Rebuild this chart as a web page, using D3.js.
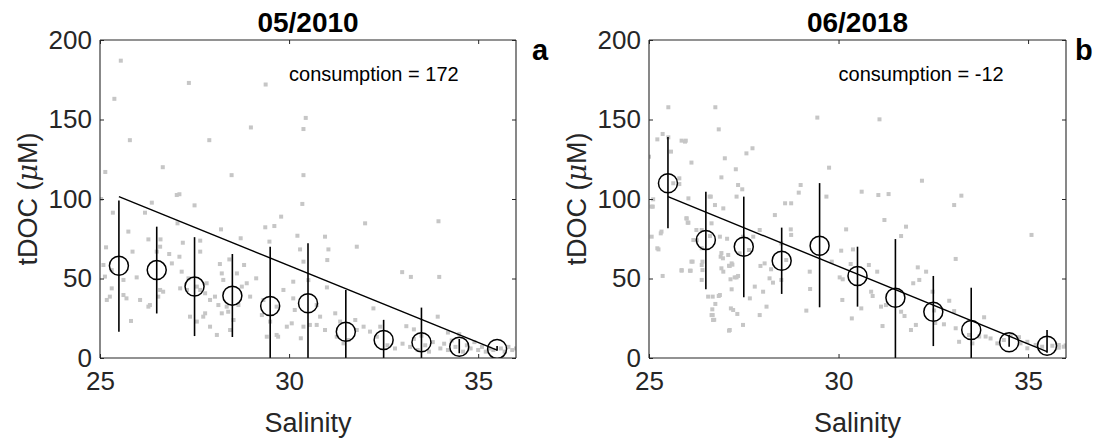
<!DOCTYPE html>
<html><head><meta charset="utf-8">
<script src="https://cdn.jsdelivr.net/npm/d3@7"></script>
<style>body{margin:0;background:#fff}svg{display:block}</style>
</head><body><svg id="c" width="1098" height="443"></svg>
<script>
const bins = [25.5,26.5,27.5,28.5,29.5,30.5,31.5,32.5,33.5,34.5,35.5];
const mean2010 = [58,55.3,44.9,39.2,32.7,34.4,16.5,11.3,9.9,7.1,5.7];
const lo2010 = [16.5,28,13.8,13.2,0,0,0,0,0,3,4.5];
const hi2010 = [99,82.6,76,65.4,70,72.1,42.8,24,31.7,12,7.5];
const mix2010 = [[25.5,101.5],[35.5,5]];
const mean2018 = [109.9,74.2,70,61.2,70.6,51.6,37.9,29.1,17.6,9.9,7.7];
const lo2018 = [81.6,43.2,38.2,40.3,31.9,32.3,0,7.5,0,7.1,3.3];
const hi2018 = [139,104.6,101.5,82,110,70,74.8,51.6,44.2,14.5,17.6];
const mix2018 = [[25.5,101.5],[35.5,4]];
const titles = ["05/2010","06/2018"];
const letters = ["a","b"];
const consumption = ["consumption = 172","consumption = -12"];
const xTicks = [25,30,35];
const yTicks = [0,50,100,150,200];

const pts2010 = [
[25.55,187],[25.38,163],[25.79,137],[25.14,117],[26.66,120],[27.35,173],[29.38,172],[30.44,151],[30.38,144],[28.99,145],
[27.89,137],[28.48,115],[30.38,115],[25.03,100],[27.03,102.5],[27.1,103],[27.5,96],[33.95,86],[32.99,54],[33.22,51],
[33.97,51],[33.93,26],[33.1,20],[26.37,97.7],[25.34,91.4],[26.19,91.4],[30.35,96.9],[29.79,88.9],[32.01,84.7],[29.37,82.2],
[29.61,83],[28.2,80.9],[25.75,79.5],[27.05,84.7],[30.22,76.9],[30.95,76.3],[29.48,73.2],[28.72,75.3],[26.28,74.6],[25.86,66.9],
[25.16,69.6],[26.6,74.6],[27.65,73.8],[27.19,72.5],[26.5,66.9],[26.59,70],[26.83,65.4],[27.1,63.7],[27.65,66.9],[28.42,62],
[28.17,59.1],[28.81,58.5],[29.13,50.1],[28.62,53.2],[28.88,47],[28.97,38.6],[30.29,68.3],[30.38,60.6],[31.01,61.6],[31.04,68.3],
[31.79,70],[30.51,49],[31,44.4],[30.11,37.5],[30.38,19.7],[30.73,20.8],[30.95,17.6],[31.26,13.4],[31.44,9.2],[31.57,11.3],
[31.79,17.6],[31.97,19.7],[32.23,31.2],[29.67,14.5],[29.71,13.4],[29.41,13.4],[29.94,19.7],[28.09,14.5],[28.44,17.6],[27.91,19.7],
[27.56,22.9],[27.38,26],[25.82,23.3],[25.18,36.5],[25.26,38.6],[25.62,39.6],[25.7,37.5],[25.31,43.8],[25.13,51.2],[25.62,49.1],
[25.97,50.7],[26.06,36.5],[26.28,32.3],[26.32,33.3],[26.54,38.6],[26.59,42.8],[26.67,41.7],[27.12,43.8],[27.3,42.8],[27.56,44.9],
[27.65,42.8],[27.82,47],[27.78,40.7],[27.91,36.5],[28.04,38.6],[28.13,33.3],[27.78,28.1],[27.73,26],[28.22,28.1],[28.35,32.3],
[28.39,29.1],[28.53,23.9],[28.66,33.3],[29.32,36.5],[29.28,27],[29.5,22.9],[30.07,21.8],[30.31,12.4],[30.55,20.8],[30.82,26],
[31.22,28.1],[31.35,22.9],[31.75,23.9],[32.14,16.6],[32.32,13.4],[32.41,19.7],[25.31,55.3],[25.09,58.5],[26.9,59.5],[27.16,54.3],
[27.34,50.1],[28.22,53.2],[28.26,49.1],[28.75,44.9],[30.11,48],[29.85,42.8],[30.15,30.2],[29.67,32.3],[30.73,33.3],
[32.6,8],[32.8,6],[33.0,9],[33.2,7],[33.3,12],[33.4,5],[33.6,8],[33.7,4],[33.8,10],[34.0,6],[34.1,9],[34.2,5],[34.3,11],
[34.4,7],[34.6,4],[34.7,8],[34.8,6],[34.9,10],[35.0,5],[35.1,7],[35.2,4],[35.3,6],[35.4,5],[35.6,6],[35.7,4],[35.8,7],
[35.9,5],[36.0,6],[34.5,15],[34.2,16],[33.5,14],[33.3,18]
];
const pts2018 = [
[25.51,157.7],[26.75,157.7],[26.84,143.8],[29.44,151.2],[31.08,150.1],[25.22,137.5],[25.36,140.9],[25.51,138.8],[25.86,136.7],[25.97,136.7],
[25.58,129.8],[25.0,126.6],[26.12,122.9],[27,125.6],[27.73,131.9],[27.57,128.7],[27.29,118.7],[26.91,113.6],[29.75,119.7],[32.2,111.5],
[25.8,113],[25.8,109.4],[25.64,109.9],[27.35,108.8],[27.46,106.1],[29,108.8],[28.95,104],[30.61,104.6],[31.05,102.5],[31.32,103.1],
[26.6,101.5],[27.31,101.5],[26.04,100.4],[25.11,99.8],[25.07,95.2],[26.63,101.5],[26.74,96.2],[26.96,94.1],[25.99,87.8],[26.04,85.1],
[25.33,79.5],[25.07,76.3],[25.25,68.3],[28.32,89.9],[28.59,97.3],[28.75,97.3],[28.74,80.9],[28.75,77.4],[29.68,101.5],[31.21,86.8],
[31.78,82.6],[31.65,76.7],[30.2,80.9],[30.07,67.5],[30.38,68.3],[30.8,58.5],[31.02,54.3],[30.03,50.7],[30.11,49.5],[30.32,59.1],
[29.82,60.6],[29.24,54.3],[29.25,43.4],[29.15,29.8],[30.1,36.5],[30.35,24.9],[30.6,31.2],[30.86,41.7],[30.9,39],[31.12,32.3],
[31.25,33.3],[31.16,20.1],[31.65,29.1],[31.74,26.4],[31.91,17.6],[32.04,20.8],[32.09,57],[32.31,54.3],[32.13,49.1],[31.97,47],
[32.48,41.7],[25.86,55.3],[26.08,54.9],[26.12,60.6],[26.39,58.5],[26.41,55.3],[26.39,49.1],[26.17,74.2],[26.25,80.5],[26.56,38.6],
[26.84,39],[26.67,30.6],[26.65,27],[26.69,23.9],[26.89,63.7],[26.91,56.4],[27.09,64.8],[27.13,57.9],[27.15,49.5],[27.26,50.7],
[26.87,76.3],[27.18,43.2],[27.33,27.7],[27.16,31.2],[27.11,17.2],[27.48,20.8],[27.66,37.5],[27.79,44.9],[28.01,41.7],[27.92,27],
[28.1,32.3],[27.94,57.9],[28.05,59.5],[28.18,50.1],[28.27,47.4],[28.22,55.8],[28.49,49.1],[28.62,61.6],[27.64,67.9],[27.75,76.3],
[27.48,76.3],[27.39,65.8],[28.49,72.1],[27.92,80.5],[26.65,84.7],[33.05,96.2],[33.24,102.1],[33.09,62.3],[35.09,77.4],[32.92,36],
[33.05,29.5],[33.84,25.6],[32.78,21.2],[33.09,18.7],[33.44,14.5],[33.71,13.5],[33.18,10.2],[33.53,9.2],[33.88,13.5],[34.01,12.3],
[34.19,9.2],[34.36,11.3],[34.54,14.5],[34.76,13.1],[34.8,9.2],[34.98,10.2],[35.2,8.2],[35.37,7.1],[35.64,7.7],[35.81,8.2],
[35.99,7.9],[34.98,6.1],[35.81,6.5],[35.94,7.1],[32.55,22],[32.52,29.9],[25.95,136.1],[25.1,95.2],[25.31,78.4],[25.22,69],
[25.36,51.6],[25.99,87.8],[26.02,85.1],[25.86,54.9],[26.1,54.9],[26.15,60.6],[26.26,74],[26.39,69],[26.41,60.6],[26.39,80.5],
[26.61,76.7],[26.68,38.6],[26.75,34],[26.68,27],[26.72,24],[26.87,39.6],[27.13,17.6],[27.22,30.2],[27.18,59.5],[26.96,54.3],
[26.95,62.7],[27.11,58],[27.2,58.7],[27.06,75],[26.91,66],[27.31,50.7],[27.35,51.6]
];

const panels = [
  {x0:100, x1:516, pts:pts2010, mean:mean2010, lo:lo2010, hi:hi2010, mix:mix2010, lx:532},
  {x0:649, x1:1066, pts:pts2018, mean:mean2018, lo:lo2018, hi:hi2018, mix:mix2018, lx:1075}
];
const yTop = 40, yBot = 358;
const FONT = "'Liberation Sans', Arial, Helvetica, sans-serif";
const AX = "#262626";
const svg = d3.select("#c");

panels.forEach((p, i) => {
  const x = d3.scaleLinear().domain([25,36]).range([p.x0, p.x1]);
  const y = d3.scaleLinear().domain([0,200]).range([yBot, yTop]);
  const g = svg.append("g");
  const clipId = "clip" + i;
  g.append("clipPath").attr("id", clipId).append("rect")
    .attr("x", p.x0).attr("y", yTop).attr("width", p.x1 - p.x0).attr("height", yBot - yTop);
  const plot = g.append("g").attr("clip-path", `url(#${clipId})`);

  plot.selectAll("rect.pt").data(p.pts).join("rect").attr("class","pt")
    .attr("x", d => x(d[0]) - 2).attr("y", d => y(d[1]) - 2)
    .attr("width", 4).attr("height", 4).attr("fill", "#c6c6c6");

  plot.append("path").datum(p.mix)
    .attr("d", d3.line().x(d => x(d[0])).y(d => y(d[1])))
    .attr("stroke", "#000").attr("stroke-width", 1.4).attr("fill", "none");

  plot.selectAll("line.eb").data(bins).join("line").attr("class","eb")
    .attr("x1", d => x(d)).attr("x2", d => x(d))
    .attr("y1", (d, j) => y(p.lo[j])).attr("y2", (d, j) => y(p.hi[j]))
    .attr("stroke", "#000").attr("stroke-width", 1.6);

  plot.selectAll("circle").data(bins).join("circle")
    .attr("cx", d => x(d)).attr("cy", (d, j) => y(p.mean[j])).attr("r", 9.5)
    .attr("fill", "none").attr("stroke", "#000").attr("stroke-width", 1.5);

  const axB = d3.axisBottom(x).tickValues(xTicks).tickSize(-4).tickPadding(14).tickFormat(d3.format("d"));
  const axT = d3.axisTop(x).tickValues(xTicks).tickSize(-4).tickFormat("");
  const axL = d3.axisLeft(y).tickValues(yTicks).tickSize(-4).tickPadding(8).tickFormat(d3.format("d"));
  const axR = d3.axisRight(y).tickValues(yTicks).tickSize(-4).tickFormat("");
  const style = (s) => {
    s.selectAll("path.domain").attr("stroke", AX).attr("stroke-width", 1.1);
    s.selectAll(".tick line").attr("stroke", AX).attr("stroke-width", 1);
    s.selectAll("text").attr("fill", AX).attr("font-family", FONT).attr("font-size", 26);
  };
  g.append("g").attr("transform", `translate(0,${yBot})`).call(axB).call(style)
    .selectAll("path.domain").attr("d", `M${p.x0},0H${p.x1}`);
  g.append("g").attr("transform", `translate(0,${yTop})`).call(axT).call(style)
    .selectAll("path.domain").attr("d", `M${p.x0},0H${p.x1}`);
  g.append("g").attr("transform", `translate(${p.x0},0)`).call(axL).call(style)
    .selectAll("path.domain").attr("d", `M0,${yBot}V${yTop}`);
  g.append("g").attr("transform", `translate(${p.x1},0)`).call(axR).call(style)
    .selectAll("path.domain").attr("d", `M0,${yBot}V${yTop}`);

  const cx = (p.x0 + p.x1) / 2;
  g.append("text").attr("x", cx).attr("y", 32).attr("text-anchor", "middle")
    .attr("font-family", FONT).attr("font-weight", "bold").attr("font-size", 28).attr("fill", "#000")
    .text(titles[i]);
  g.append("text").attr("x", p.lx).attr("y", 60)
    .attr("font-family", FONT).attr("font-weight", "bold").attr("font-size", 29).attr("fill", "#000")
    .text(letters[i]);
  g.append("text").attr("x", x(30)).attr("y", 81)
    .attr("font-family", FONT).attr("font-size", 20).attr("fill", "#000")
    .text(consumption[i]);
  g.append("text").attr("x", cx).attr("y", 432).attr("text-anchor", "middle")
    .attr("font-family", FONT).attr("font-size", 27).attr("fill", AX)
    .text("Salinity");
  const yl = g.append("text")
    .attr("transform", `translate(${p.x0 - 63},${(yTop + yBot) / 2}) rotate(-90)`)
    .attr("text-anchor", "middle")
    .attr("font-family", FONT).attr("font-size", 27).attr("fill", AX);
  yl.append("tspan").text("tDOC (");
  yl.append("tspan").attr("font-style", "italic").attr("font-family", "'DejaVu Serif', serif").text("\u03bc");
  yl.append("tspan").text("M)");
});
</script></body></html>
